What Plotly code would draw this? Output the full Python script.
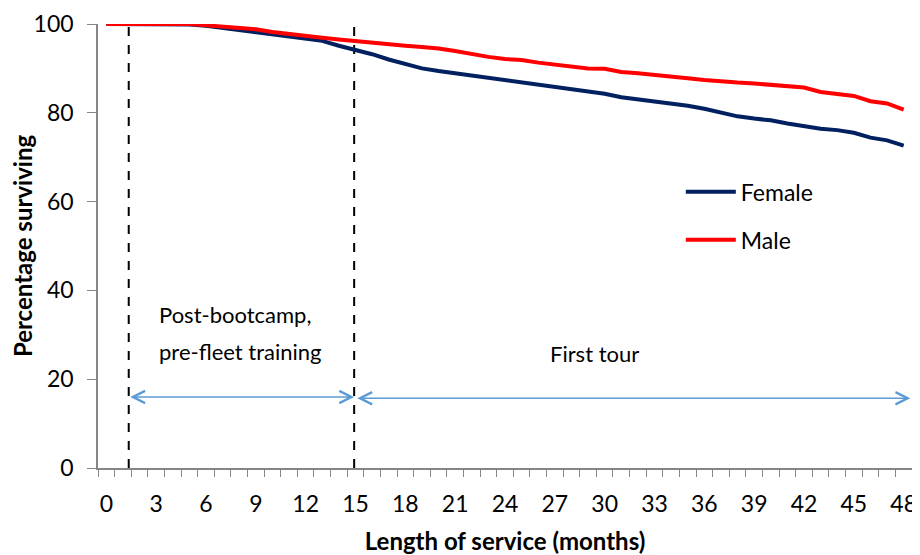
import plotly.graph_objects as go

months = list(range(0, 49))

female = [100, 100, 100, 100, 100, 99.9, 99.6, 99.1, 98.7, 98.3,
          97.7, 97.2, 96.7, 96.2, 95.1, 94.2, 93.2, 92.0, 90.9, 90.0,
          89.4, 88.9, 88.2, 87.8, 87.2, 86.7, 86.2, 85.7, 85.4, 84.8,
          84.3, 83.5, 83.0, 82.7, 82.0, 81.6, 80.9, 80.0, 79.2, 78.7,
          78.3, 77.6, 77.0, 76.4, 76.1, 75.5, 74.4, 73.8, 72.6]

male = [100, 100, 100, 100, 100, 100, 99.7, 99.4, 99.1, 98.8,
        98.2, 97.7, 97.3, 96.9, 96.5, 96.1, 95.7, 95.5, 95.1, 94.8,
        94.5, 93.9, 93.2, 92.6, 92.1, 91.9, 91.3, 90.8, 90.4, 90.0,
        89.9, 89.2, 88.9, 88.6, 88.2, 87.8, 87.4, 87.0, 86.8, 86.6,
        86.3, 86.0, 85.7, 84.7, 84.3, 83.8, 82.6, 82.1, 80.7]

# phase boundaries (months) and arrow level (%)
bootcamp_end = 1.35
training_end = 14.92
tour_end = 48.4
arrow_level = [16.0, 15.7]

x_ticks = list(range(0, 49, 3))
y_ticks = [0, 20, 40, 60, 80, 100]

FONT = "Lato, 'Open Sans', sans-serif"
GREY = "#868686"
BLUE = "#5B9BD5"

fig = go.Figure()

fig.add_trace(
    go.Scatter(
        x=months,
        y=female,
        name="Female",
        mode="lines",
        line=dict(color="#002060", width=4),
        legendgroup="f",
        cliponaxis=False,
    )
)

fig.add_trace(
    go.Scatter(
        x=months,
        y=male,
        name="Male",
        mode="lines",
        line=dict(color="#FF0000", width=4),
        legendgroup="m",
        cliponaxis=False,
    )
)

# phase dividers
for xv in [bootcamp_end, training_end]:
    fig.add_shape(
        type="line",
        x0=xv, x1=xv, y0=0, y1=100,
        xref="x", yref="y",
        line=dict(color="black", width=2, dash="dash"),
        layer="below",
    )

# double-headed arrows
arrows = [
    (bootcamp_end, training_end, arrow_level[0]),
    (training_end + 0.1, tour_end, arrow_level[1]),
]
for x_start, x_end, yv in arrows:
    fig.add_annotation(
        x=x_end, y=yv, ax=x_start, ay=yv,
        xref="x", yref="y", axref="x", ayref="y",
        text="",
        showarrow=True,
        arrowhead=5,
        startarrowhead=5,
        arrowside="end+start",
        arrowsize=1.6,
        startarrowsize=1.6,
        arrowwidth=1.5,
        arrowcolor=BLUE,
    )

fig.add_annotation(
    x=3.04, y=34.6, xref="x", yref="y",
    text="Post-bootcamp,", showarrow=False,
    xanchor="left", font=dict(size=22, color="black"),
)
fig.add_annotation(
    x=3.04, y=26.2, xref="x", yref="y",
    text="pre-fleet training", showarrow=False,
    xanchor="left", font=dict(size=22, color="black"),
)
fig.add_annotation(
    x=29.4, y=25.8, xref="x", yref="y",
    text="First tour", showarrow=False,
    font=dict(size=22, color="black"),
)

# the page body adds an 8px offset, so the figure is drawn 8px smaller
fig.update_layout(
    width=912,
    height=547,
    paper_bgcolor="white",
    plot_bgcolor="white",
    font=dict(family=FONT, size=23, color="black"),
    margin=dict(l=90, r=8, t=16, b=87),
    showlegend=True,
    legend=dict(
        x=0.716,
        y=0.6705,
        xanchor="left",
        yanchor="top",
        bgcolor="rgba(0,0,0,0)",
        font=dict(size=23),
        tracegroupgap=15,
        itemwidth=50,
    ),
)

# category-style axis: labels centred on months, ticks on boundaries
fig.update_xaxes(
    range=[-0.5, 48.5],
    tickvals=x_ticks,
    ticks="",
    ticklabelstandoff=15,
    ticklabeloverflow="allow",
    minor=dict(tick0=-0.5, dtick=1, ticks="outside", ticklen=7,
               tickcolor=GREY, showgrid=False),
    showline=True,
    linecolor=GREY,
    linewidth=1.5,
    showgrid=False,
    zeroline=False,
    title=dict(text="<b>Length of service (months)</b>", standoff=17,
               font=dict(size=24)),
    automargin=False,
)

fig.update_yaxes(
    range=[0, 100],
    tickvals=y_ticks,
    ticks="outside",
    ticklen=9,
    tickcolor=GREY,
    ticklabelstandoff=9,
    ticklabeloverflow="allow",
    showline=True,
    linecolor=GREY,
    linewidth=1.5,
    showgrid=False,
    zeroline=False,
    title=dict(text="<b>Percentage surviving</b>", standoff=12,
               font=dict(size=24)),
    automargin=False,
)

fig.write_html("out.html")
